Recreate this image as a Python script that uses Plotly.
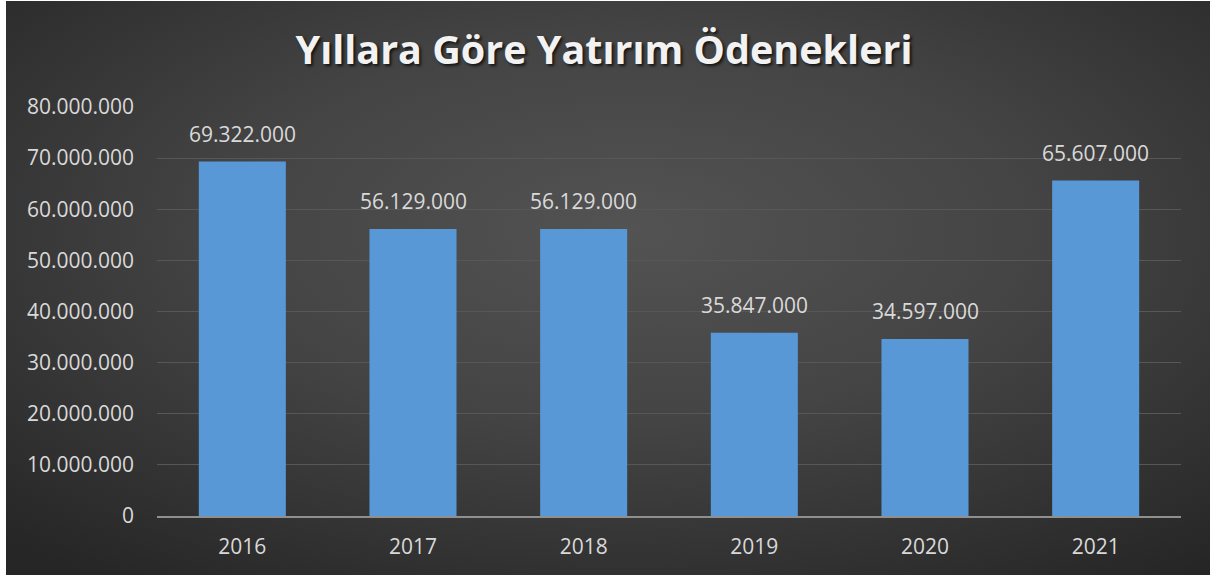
import base64
import plotly.graph_objects as go

years = ["2016", "2017", "2018", "2019", "2020", "2021"]
values = [69322000, 56129000, 56129000, 35847000, 34597000, 65607000]
label_texts = ["69.322.000", "56.129.000", "56.129.000", "35.847.000", "34.597.000", "65.607.000"]
tick_vals = [0, 10000000, 20000000, 30000000, 40000000, 50000000, 60000000, 70000000, 80000000]
tick_texts = ["0", "10.000.000", "20.000.000", "30.000.000", "40.000.000",
              "50.000.000", "60.000.000", "70.000.000", "80.000.000"]
title_text = "Yıllara Göre Yatırım Ödenekleri"

W, H = 1213, 576
ML, MR, MT, MB = 157, 32, 107, 60
pw = W - ML - MR
ph = H - MT - MB

svg = f'''<svg xmlns="http://www.w3.org/2000/svg" width="1204" height="574" viewBox="0 0 1204 574" preserveAspectRatio="none">
<defs><radialGradient id="g" cx="52%" cy="40%" r="75%" fx="52%" fy="40%">
<stop offset="0%" stop-color="#535353"/>
<stop offset="45%" stop-color="#444444"/>
<stop offset="100%" stop-color="#262626"/>
</radialGradient></defs>
<rect width="1204" height="574" fill="url(#g)"/></svg>'''
src = "data:image/svg+xml;base64," + base64.b64encode(svg.encode()).decode()

x0 = (6 - ML) / pw
x1 = (1210 - ML) / pw
ytop = (H - MB - 1) / ph
ybot = (H - MB - 575) / ph

LABEL_FONT = dict(family="Open Sans", size=21, color="#d9d9d9")

fig = go.Figure()
fig.add_trace(go.Bar(
    x=years, y=values,
    marker=dict(color="#5898d6", line=dict(width=0)),
    hoverinfo="skip",
))

# category axis: annotations placed by category index
for i, (v, t) in enumerate(zip(values, label_texts)):
    fig.add_annotation(x=i, y=v, xref="x", yref="y", text=t, showarrow=False,
                       yanchor="bottom", yshift=12, font=LABEL_FONT)

fig.update_layout(
    width=W, height=H,
    margin=dict(l=ML, r=MR, t=MT, b=MB, pad=0),
    paper_bgcolor="white",
    plot_bgcolor="rgba(0,0,0,0)",
    bargap=0.49,
    showlegend=False,
    title=dict(text=title_text, x=604 / W, xref="container", xanchor="center",
               y=1 - 50 / H, yref="container", yanchor="middle",
               font=dict(family="Open Sans", size=39.5, color="#f2f2f2", weight="bold",
                         shadow="2px 2px 3px rgba(0,0,0,0.7)")),
    images=[dict(source=src, xref="paper", yref="paper", x=x0, y=ytop, sizex=x1 - x0,
                 sizey=ytop - ybot, xanchor="left", yanchor="top", sizing="stretch", layer="below")],
    xaxis=dict(type="category", range=[-0.5, len(years) - 0.5], showgrid=False, showline=True,
               linecolor="#8f8f8f", linewidth=2,
               tickfont=LABEL_FONT, ticks="", ticklabelstandoff=11),
    yaxis=dict(range=[0, 80000000], tickvals=tick_vals, ticktext=tick_texts,
               showgrid=True, gridcolor="#575757", gridwidth=1, zeroline=False,
               tickfont=LABEL_FONT, ticks="", ticklabelstandoff=22),
)
fig.write_html("out.html")
